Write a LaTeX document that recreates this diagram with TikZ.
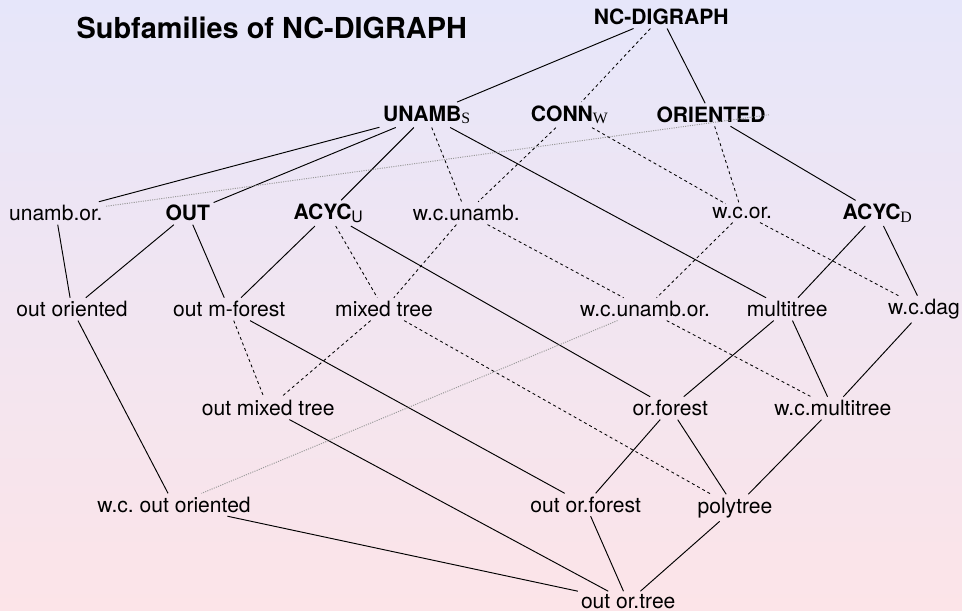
\documentclass[tikz,border=0pt]{standalone}
\usepackage{fontspec}
\setmainfont{TeX Gyre Heros}
\newfontfamily\subserif{Liberation Serif}
\usepackage{tikz}
\usetikzlibrary{positioning}

\newcommand{\rsub}[1]{\raisebox{-1.3pt}{\fontsize{7.5}{8}\selectfont\mdseries\subserif #1}}
\newcommand{\ssub}[1]{\raisebox{-1.3pt}{\fontsize{7.5}{8}\selectfont\mdseries #1}}

\definecolor{bgtop}{RGB}{230,230,250}
\definecolor{bgbot}{RGB}{252,228,232}

\tikzset{
  fam/.style={inner sep=1.5pt, font=\fontsize{10}{12}\selectfont},
  cls/.style={fam, font=\fontsize{10}{12}\selectfont\bfseries},
  inc/.style={black, line width=0.45pt},
  weak/.style={black, line width=0.4pt, dash pattern=on 1.4pt off 1.4pt},
  faint/.style={gray!80, line width=0.45pt, dash pattern=on 0.5pt off 0.6pt},
}

\begin{document}
\begin{tikzpicture}
  % Background
  \shade[top color=bgtop, bottom color=bgbot] (0,0) rectangle (16.033,10.183);
  \useasboundingbox (0,0) rectangle (16.033,10.183);

  \node[cls, font=\fontsize{13.7}{16}\selectfont\bfseries] (title) at (4.53,9.72) {Subfamilies of NC-DIGRAPH};

  % Top classes
  \node[cls] (nc) at (11.02,9.90) {NC-DIGRAPH};
  \node[cls] (unamb) at (7.11,8.27) {UNAMB\rsub{S}};
  \node[cls] (conn) at (9.49,8.27) {CONN\rsub{W}};
  \node[cls] (orient) at (11.85,8.27) {ORIENTED};

  % Row 2
  \node[fam] (unor) at (0.93,6.63) {unamb.or.};
  \node[cls] (out) at (3.13,6.63) {OUT};
  \node[cls] (acycu) at (5.47,6.63) {ACYC\ssub{U}};
  \node[fam] (wcun) at (7.77,6.63) {w.c.unamb.};
  \node[fam] (wcor) at (12.37,6.63) {w.c.or.};
  \node[cls] (acycd) at (14.62,6.63) {ACYC\rsub{D}};

  % Row 3
  \node[fam] (outor) at (1.20,5.03) {out oriented};
  \node[fam] (outmf) at (3.82,5.03) {out m-forest};
  \node[fam] (mixed) at (6.40,5.03) {mixed tree};
  \node[fam] (wcunor) at (10.75,5.03) {w.c.unamb.or.};
  \node[fam] (multi) at (13.12,5.03) {multitree};
  \node[fam] (wcdag) at (15.40,5.03) {w.c.dag};

  % Row 4
  \node[fam] (outmix) at (4.47,3.38) {out mixed tree};
  \node[fam] (orfor) at (11.17,3.38) {or.forest};
  \node[fam] (wcmulti) at (13.88,3.38) {w.c.multitree};

  % Row 5 and bottom
  \node[fam] (wcoutor) at (2.90,1.77) {w.c.\ out oriented};
  \node[fam] (outorf) at (9.76,1.77) {out or.forest};
  \node[fam] (poly) at (12.25,1.72) {polytree};
  \node[fam] (outtree) at (10.47,0.15) {out or.tree};

  % Inclusions
  \foreach \a/\b in {nc/unamb, nc/orient, unamb/unor, unamb/out, unamb/acycu, unamb/multi,
                     orient/acycd, unor/outor, out/outor, out/outmf, acycu/outmf, acycu/orfor,
                     acycd/multi, acycd/wcdag, outor/wcoutor, outmf/outorf, multi/orfor,
                     multi/wcmulti, wcdag/wcmulti, outmix/outtree, orfor/outorf, orfor/poly,
                     wcmulti/poly, wcoutor/outtree, outorf/outtree, poly/outtree}
    \draw[inc] (\a) -- (\b);

  % Weak connectivity
  \foreach \a/\b in {nc/conn, unamb/wcun, conn/wcun, conn/wcor, orient/wcor, acycu/mixed,
                     wcun/mixed, wcun/wcunor, wcor/wcunor, wcor/wcdag, outmf/outmix,
                     mixed/outmix, mixed/poly, wcunor/wcmulti}
    \draw[weak] (\a) -- (\b);

  \draw[faint] (unor) -- (orient.east);
  \draw[faint] (wcunor) -- (wcoutor);
\end{tikzpicture}
\end{document}
